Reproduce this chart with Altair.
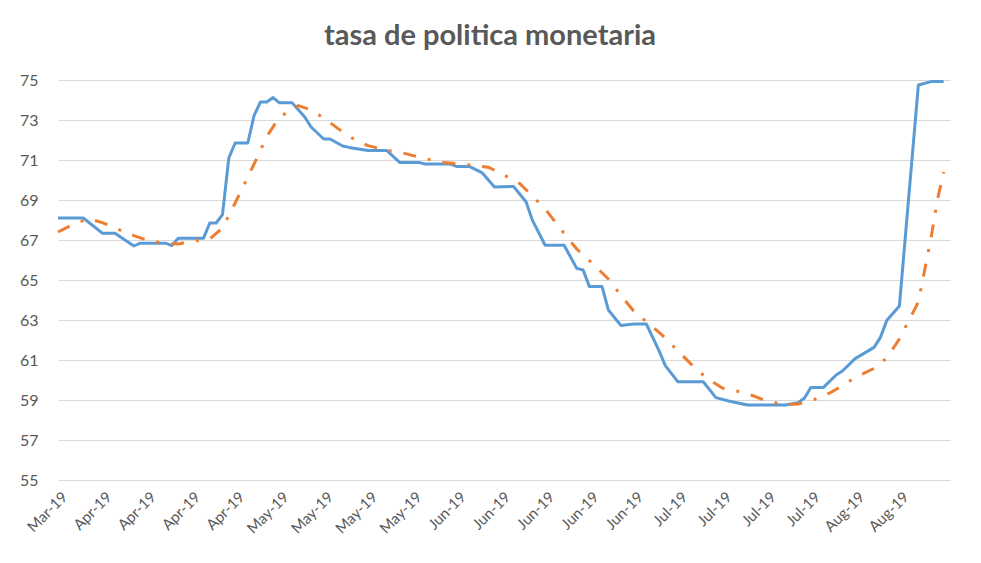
import altair as alt
import pandas as pd

title_text = "tasa de politica monetaria"

blue_dates = [
    "2019-03-29", "2019-04-02", "2019-04-05", "2019-04-07", "2019-04-10", "2019-04-11",
    "2019-04-15", "2019-04-16", "2019-04-17", "2019-04-21", "2019-04-22", "2019-04-23",
    "2019-04-24", "2019-04-25", "2019-04-26", "2019-04-28", "2019-04-29", "2019-04-30",
    "2019-05-01", "2019-05-02", "2019-05-03", "2019-05-05", "2019-05-07", "2019-05-08",
    "2019-05-10", "2019-05-11", "2019-05-13", "2019-05-14", "2019-05-17", "2019-05-20",
    "2019-05-22", "2019-05-25", "2019-05-26", "2019-05-30", "2019-05-31", "2019-06-02",
    "2019-06-04", "2019-06-06", "2019-06-09", "2019-06-11", "2019-06-12", "2019-06-14",
    "2019-06-17", "2019-06-19", "2019-06-20", "2019-06-21", "2019-06-23", "2019-06-24",
    "2019-06-26", "2019-06-28", "2019-06-30", "2019-07-02", "2019-07-03", "2019-07-05",
    "2019-07-09", "2019-07-11", "2019-07-13", "2019-07-16", "2019-07-22", "2019-07-24",
    "2019-07-25", "2019-07-26", "2019-07-28", "2019-07-30", "2019-07-31", "2019-08-02",
    "2019-08-05", "2019-08-06", "2019-08-07", "2019-08-09", "2019-08-12", "2019-08-14",
    "2019-08-16",
]
blue_values = [
    68.1, 68.1, 67.34, 67.34, 66.7, 66.84,
    66.84, 66.72, 67.09, 67.09, 67.85, 67.85,
    68.27, 71.1, 71.85, 71.85, 73.23, 73.9,
    73.9, 74.12, 73.86, 73.86, 73.15, 72.65,
    72.05, 72.05, 71.7, 71.63, 71.47, 71.47,
    70.88, 70.88, 70.8, 70.8, 70.68, 70.68,
    70.37, 69.65, 69.68, 68.9, 67.98, 66.74,
    66.74, 65.58, 65.5, 64.67, 64.67, 63.5,
    62.72, 62.8, 62.8, 61.47, 60.72, 59.91,
    59.91, 59.12, 58.95, 58.75, 58.75, 58.87,
    59.1, 59.63, 59.63, 60.25, 60.45, 61.07,
    61.63, 62.13, 62.97, 63.7, 74.75, 74.92,
    74.92,
]

orange_dates = [
    "2019-03-29", "2019-04-01", "2019-04-03", "2019-04-05", "2019-04-08", "2019-04-10",
    "2019-04-12", "2019-04-15", "2019-04-17", "2019-04-19", "2019-04-22", "2019-04-24",
    "2019-04-26", "2019-04-29", "2019-05-01", "2019-05-03", "2019-05-06", "2019-05-08",
    "2019-05-10", "2019-05-13", "2019-05-15", "2019-05-17", "2019-05-20", "2019-05-22",
    "2019-05-24", "2019-05-27", "2019-05-29", "2019-05-31", "2019-06-03", "2019-06-05",
    "2019-06-07", "2019-06-10", "2019-06-12", "2019-06-14", "2019-06-17", "2019-06-19",
    "2019-06-21", "2019-06-24", "2019-06-26", "2019-06-28", "2019-07-01", "2019-07-03",
    "2019-07-05", "2019-07-08", "2019-07-10", "2019-07-12", "2019-07-15", "2019-07-17",
    "2019-07-19", "2019-07-22", "2019-07-24", "2019-07-26", "2019-07-29", "2019-07-31",
    "2019-08-02", "2019-08-05", "2019-08-07", "2019-08-09", "2019-08-12", "2019-08-13",
    "2019-08-14", "2019-08-15", "2019-08-16",
]
orange_values = [
    67.4, 67.88, 68.05, 67.87, 67.47, 67.22,
    67.0, 66.82, 66.8, 66.93, 67.05, 67.6,
    68.85, 70.8, 72.17, 73.15, 73.72, 73.5,
    73.1, 72.4, 72.0, 71.72, 71.48, 71.39,
    71.23, 71.0, 70.88, 70.82, 70.72, 70.64,
    70.33, 69.82, 69.2, 68.55, 67.33, 66.55,
    65.97, 65.05, 64.22, 63.45, 62.65, 62.1,
    61.45, 60.5, 60.0, 59.6, 59.4, 59.2,
    58.95, 58.76, 58.8, 58.95, 59.35, 59.72,
    60.12, 60.58, 61.1, 62.05, 63.9, 65.5,
    67.1, 69.0, 70.4,
]

tick_dates = [
    "2019-03-30", "2019-04-06", "2019-04-13", "2019-04-20", "2019-04-27",
    "2019-05-04", "2019-05-11", "2019-05-18", "2019-05-25", "2019-06-01",
    "2019-06-08", "2019-06-15", "2019-06-22", "2019-06-29", "2019-07-06",
    "2019-07-13", "2019-07-20", "2019-07-27", "2019-08-03", "2019-08-10",
]
y_ticks = [55, 57, 59, 61, 63, 65, 67, 69, 71, 73, 75]
x_domain = ["2019-03-29", "2019-08-17"]


def dt(s):
    t = pd.Timestamp(s)
    return alt.DateTime(year=t.year, month=t.month, date=t.day, utc=True)


blue_df = pd.DataFrame({"fecha": blue_dates, "tasa": blue_values})
orange_df = pd.DataFrame({"fecha": orange_dates, "tasa": orange_values})

x_enc = alt.X(
    "fecha:T",
    scale=alt.Scale(type="utc", domain=[dt(d) for d in x_domain], nice=False),
    axis=alt.Axis(
        values=[dt(d) for d in tick_dates],
        labelExpr="utcFormat(datum.value, '%b-%y')",
        labelAngle=315,
        labelAlign="right",
        labelBaseline="middle",
        labelPadding=14,
        labelFontSize=15,
        labelColor="#595959",
        labelFont="Lato",
        grid=False,
        domain=False,
        ticks=False,
        title=None,
        labelOverlap=False,
        labelBound=False,
    ),
)
y_enc = alt.Y(
    "tasa:Q",
    scale=alt.Scale(domain=[55, 75], nice=False, zero=False),
    axis=alt.Axis(
        values=y_ticks,
        grid=True,
        gridColor="#d9d9d9",
        gridWidth=1,
        domain=False,
        ticks=False,
        labelPadding=20,
        labelFontSize=16,
        labelColor="#595959",
        labelFont="Lato",
        title=None,
    ),
)

blue = alt.Chart(blue_df).mark_line(
    color="#5b9bd5", strokeWidth=3, strokeJoin="round"
).encode(x=x_enc, y=y_enc)

orange = alt.Chart(orange_df).mark_line(
    color="#ed7d31", strokeWidth=3, strokeDash=[13, 12, 3, 12], strokeJoin="round"
).encode(x=x_enc, y=y_enc)

chart = (
    alt.layer(blue, orange)
    .properties(
        width=892,
        height=400,
        autosize=alt.AutoSizeParams(type="none"),
        padding={"left": 58, "top": 80, "right": 31, "bottom": 83},
        background="white",
        title=alt.TitleParams(
            text=title_text,
            font="Lato",
            fontSize=29,
            fontWeight="bold",
            color="#595959",
            anchor="middle",
            dx=-14,
            baseline="alphabetic",
            offset=-2,
        ),
    )
    .configure_view(stroke=None)
)

chart.save("out.html", embed_options={"renderer": "svg", "actions": False})
